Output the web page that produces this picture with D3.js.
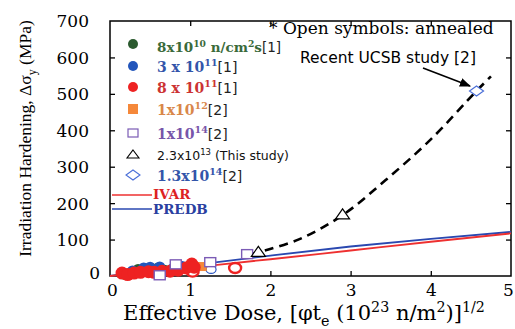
<!DOCTYPE html>
<html>
<head>
<meta charset="utf-8">
<script src="https://cdn.jsdelivr.net/npm/d3@7"></script>
<style>
  html, body { margin: 0; padding: 0; background: #fff; }
  svg { display: block; }
  .times { font-family: "Liberation Serif", "Times New Roman", serif; }
  .wide { font-family: "DejaVu Serif", "Liberation Serif", serif; }
  .sans { font-family: "DejaVu Sans", "Liberation Sans", sans-serif; }
</style>
</head>
<body>
<script>
// Irradiation hardening vs effective dose
const xTicks = [0, 1, 2, 3, 4, 5];
const yTicks = [0, 100, 200, 300, 400, 500, 600, 700];

// [dose, hardening MPa]
const red8e11 = [[0.15,8],[0.22,4],[0.3,8],[0.38,10],[0.48,12],[0.55,10],[0.65,13],[0.75,13],[0.85,16],[0.95,22],[1.02,33],[1.05,24]];
const blue3e11 = [[0.28,14],[0.42,22],[0.5,24],[0.62,25],[0.78,20],[0.9,26]];
const green8e10 = [[0.18,5],[0.35,18],[0.6,22],[0.68,16]];
const orange1e12 = [[1.15,26]];
const purple1e14 = [[0.62,2],[0.82,32],[1.25,38],[1.71,60]];
const redOpen = [[1.03,12],[1.56,22]];
const blueOpen = [[1.26,18]];
const thisStudy = [[1.85,65],[2.9,168]];
const ucsb = [[4.57,508]];

const trendDashed = [[1.75,60],[1.85,65],[2.37,102],[2.9,167],[3.43,262],[4.0,375],[4.57,508],[4.75,548]];
const ivarModel = [[0,0],[1,23],[2,46],[3,70],[4,94],[5,117]];
const predbModel = [[0,0],[0.3,10],[1,29],[2,56],[3,81],[4,102],[5,121]];

const W = 515, H = 329;
const m = {left: 110, right: 4, top: 21, bottom: 53};

const svg = d3.select("body").append("svg").attr("width", W).attr("height", H);

const x = d3.scaleLinear().domain([0, 5]).range([m.left, W - m.right]);
const y = d3.scaleLinear().domain([0, 700]).range([H - m.bottom, m.top]);

// frame
svg.append("rect")
  .attr("x", x(0)).attr("y", y(700))
  .attr("width", x(5) - x(0)).attr("height", y(0) - y(700))
  .attr("fill", "none").attr("stroke", "#000").attr("stroke-width", 1.5);

// axes with inward ticks
const tl = 5;
const gx = svg.append("g").attr("transform", `translate(0,${y(0)})`)
  .call(d3.axisBottom(x).tickValues(xTicks).tickSize(-tl).tickPadding(tl + 6).tickFormat(d3.format("d")));
const gxt = svg.append("g").attr("transform", `translate(0,${y(700)})`)
  .call(d3.axisTop(x).tickValues([1,2,3,4]).tickSize(-tl).tickFormat(""));
const gy = svg.append("g").attr("transform", `translate(${x(0)},0)`)
  .call(d3.axisLeft(y).tickValues(yTicks).tickSize(-tl).tickPadding(tl + 16).tickFormat(d3.format("d")));
const gyr = svg.append("g").attr("transform", `translate(${x(5)},0)`)
  .call(d3.axisRight(y).tickValues([100,200,300,400,500,600]).tickSize(-tl).tickFormat(""));

[gx, gxt, gy, gyr].forEach(g => {
  g.attr("font-family", null).attr("font-size", null);
  g.select(".domain").remove();
  g.selectAll(".tick line").attr("stroke", "#000").attr("stroke-width", 1.3);
  g.selectAll("text").attr("class", "wide").style("font-size", "17px").attr("fill", "#000");
});
gx.selectAll(".tick").filter(d => d === 0 || d === 5).select("line").remove();
gy.selectAll(".tick").filter(d => d === 0 || d === 700).select("line").remove();
gx.selectAll(".tick text").attr("dy", "0.55em");
gy.selectAll(".tick text").attr("dy", "0.35em");
gy.selectAll(".tick").filter(d => d === 0).select("text").attr("dx", 11).attr("dy", "0.15em");
gx.selectAll(".tick").filter(d => d === 0).select("text").attr("dx", 2);
gx.selectAll(".tick").filter(d => d === 5).select("text").attr("dx", -3);

// rich text helper: parts = [text, kind, cssClass, fill]
function rich(sel, parts, opts) {
  const t = sel.append("text")
    .attr("x", opts.x).attr("y", opts.y)
    .attr("class", opts.cls).style("font-size", opts.size + "px")
    .attr("fill", opts.fill).style("font-weight", opts.weight || "normal");
  if (opts.transform) t.attr("transform", opts.transform);
  if (opts.anchor) t.attr("text-anchor", opts.anchor);
  let shift = 0;
  parts.forEach(p => {
    const [txt, kind, c, fill] = p;
    let target = 0, fs = opts.size;
    if (kind === "sup") { target = -opts.size * 0.4; fs = opts.size * 0.68; }
    if (kind === "sub") { target = opts.size * 0.3; fs = opts.size * 0.68; }
    const ts = t.append("tspan").text(txt).attr("dy", target - shift).style("font-size", fs + "px");
    if (c) ts.attr("class", c).style("font-weight", "normal");
    if (fill) ts.attr("fill", fill);
    shift = target;
  });
  return t;
}

// models
const line = d3.line().x(d => x(d[0])).y(d => y(d[1])).curve(d3.curveMonotoneX);
svg.append("path").datum(predbModel).attr("d", line)
  .attr("fill", "none").attr("stroke", "#2a48b0").attr("stroke-width", 1.8);
svg.append("path").datum(ivarModel).attr("d", line)
  .attr("fill", "none").attr("stroke", "#ee3030").attr("stroke-width", 1.8);

// trend for irradiations at high dose
svg.append("path").datum(trendDashed).attr("d", d3.line().x(d => x(d[0])).y(d => y(d[1])).curve(d3.curveCatmullRom))
  .attr("fill", "none").attr("stroke", "#000").attr("stroke-width", 2.6).attr("stroke-dasharray", "9,6");

// markers
function circles(data, fill, r) {
  svg.append("g").selectAll("circle").data(data).join("circle")
    .attr("cx", d => x(d[0])).attr("cy", d => y(d[1])).attr("r", r).attr("fill", fill);
}
function openCircles(data, stroke, rx, ry, sw) {
  svg.append("g").selectAll("ellipse").data(data).join("ellipse")
    .attr("cx", d => x(d[0])).attr("cy", d => y(d[1])).attr("rx", rx).attr("ry", ry)
    .attr("fill", "#fff").attr("stroke", stroke).attr("stroke-width", sw);
}
function squares(data, fill, stroke, w, h) {
  svg.append("g").selectAll("rect").data(data).join("rect")
    .attr("x", d => x(d[0]) - w / 2).attr("y", d => y(d[1]) - h / 2).attr("width", w).attr("height", h)
    .attr("fill", fill).attr("stroke", stroke).attr("stroke-width", 1.4);
}
function triangles(data) {
  svg.append("g").selectAll("path").data(data).join("path")
    .attr("transform", d => `translate(${x(d[0])},${y(d[1])})`)
    .attr("d", "M0,-6L7,4L-7,4Z").attr("fill", "#fff").attr("stroke", "#000").attr("stroke-width", 1.2);
}
function diamonds(data, stroke) {
  svg.append("g").selectAll("path").data(data).join("path")
    .attr("transform", d => `translate(${x(d[0])},${y(d[1])})`)
    .attr("d", "M0,-5L7,0L0,5L-7,0Z").attr("fill", "#fff").attr("stroke", stroke).attr("stroke-width", 1.2);
}

circles(green8e10, "#2b5a2f", 5.5);
circles(blue3e11, "#2255bb", 5.5);
openCircles(blueOpen, "#2a55c0", 5, 4, 1.2);
squares(orange1e12, "#f5883a", "none", 9, 9);
openCircles(redOpen, "#ee2222", 6, 5, 2.4);
circles(red8e11, "#ee2222", 6.5);
squares(purple1e14, "#fff", "#7b5bb5", 11, 9);
triangles(thisStudy);
diamonds(ucsb, "#4a6fd8");

// legend
const lx = 133, tx = 157;
const leg = svg.append("g");
leg.append("circle").attr("cx", lx).attr("cy", 44).attr("r", 5).attr("fill", "#2b5a2f");
leg.append("circle").attr("cx", lx).attr("cy", 66).attr("r", 5).attr("fill", "#2255bb");
leg.append("circle").attr("cx", lx).attr("cy", 87).attr("r", 5).attr("fill", "#ee2222");
leg.append("rect").attr("x", lx - 5).attr("y", 104).attr("width", 10).attr("height", 10).attr("fill", "#f5883a");
leg.append("rect").attr("x", lx - 5).attr("y", 129).attr("width", 10).attr("height", 8).attr("fill", "#fff").attr("stroke", "#7b5bb5").attr("stroke-width", 1.2);
leg.append("path").attr("transform", `translate(${lx},155)`).attr("d", "M0,-5L6,3L-6,3Z").attr("fill", "#fff").attr("stroke", "#000").attr("stroke-width", 1.1);
leg.append("path").attr("transform", `translate(${lx},175)`).attr("d", "M0,-5L7,0L0,5L-7,0Z").attr("fill", "#fff").attr("stroke", "#4a6fd8").attr("stroke-width", 1.1);
leg.append("line").attr("x1", 112).attr("x2", 152).attr("y1", 195).attr("y2", 195).attr("stroke", "#ee3030").attr("stroke-width", 1.6);
leg.append("line").attr("x1", 112).attr("x2", 152).attr("y1", 209).attr("y2", 209).attr("stroke", "#2a48b0").attr("stroke-width", 1.6);

const ls = 14;
const ref = c => [c, null, "sans", "#222"];
rich(leg, [["8x10"], ["10", "sup"], [" n/cm"], ["2", "sup"], ["s"], ref("[1]")], {x: tx, y: 52, cls: "wide", size: 13.5, fill: "#3a6a3a", weight: "bold"});
rich(leg, [["3 x 10"], ["11", "sup"], ref("[1]")], {x: tx, y: 72, cls: "wide", size: ls, fill: "#3355aa", weight: "bold"});
rich(leg, [["8 x 10"], ["11", "sup"], ref("[1]")], {x: tx, y: 93, cls: "wide", size: ls, fill: "#cc3333", weight: "bold"});
rich(leg, [["1x10"], ["12", "sup"], ref("[2]")], {x: tx, y: 115, cls: "wide", size: ls, fill: "#d9874a", weight: "bold"});
rich(leg, [["1x10"], ["14", "sup"], ref("[2]")], {x: tx, y: 139, cls: "wide", size: ls, fill: "#7755aa", weight: "bold"});
rich(leg, [["2.3x10"], ["13", "sup"], [" (This study)"]], {x: tx, y: 160, cls: "sans", size: 12.5, fill: "#111"});
rich(leg, [["1.3x10"], ["14", "sup"], ref("[2]")], {x: tx, y: 181, cls: "wide", size: ls, fill: "#3355aa", weight: "bold"});
leg.append("text").attr("x", 153).attr("y", 199).text("IVAR")
  .attr("class", "wide").style("font-size", "13.5px").style("font-weight", "bold").attr("fill", "#dd2222");
leg.append("text").attr("x", 153).attr("y", 214).text("PREDB")
  .attr("class", "wide").style("font-size", "13.5px").style("font-weight", "bold").attr("fill", "#2a40a0");

// annotations
svg.append("text").attr("x", 269).attr("y", 34).text("* Open symbols: annealed")
  .attr("class", "wide").style("font-size", "17px").attr("fill", "#000");
svg.append("text").attr("x", 300).attr("y", 63).text("Recent UCSB study [2]")
  .attr("class", "sans").style("font-size", "15.5px").attr("fill", "#000");

svg.append("defs").append("marker").attr("id", "ah").attr("viewBox", "0 0 10 10")
  .attr("refX", 9).attr("refY", 5).attr("markerWidth", 7).attr("markerHeight", 7).attr("orient", "auto")
  .append("path").attr("d", "M0,1L10,5L0,9Z").attr("fill", "#000");
svg.append("line").attr("x1", 423).attr("y1", 68).attr("x2", 470).attr("y2", 86)
  .attr("stroke", "#000").attr("stroke-width", 1.6).attr("marker-end", "url(#ah)");

// axis titles
rich(svg, [["Irradiation Hardening, Δσ"], ["y", "sub"], [" (MPa)"]],
  {x: 0, y: 0, cls: "times", size: 17.5, fill: "#000", anchor: "middle", transform: `translate(31,${(20 + 257) / 2}) rotate(-90)`});
rich(svg, [["Effective Dose, [φt"], ["e", "sub"], [" (10"], ["23", "sup"], [" n/m"], ["2", "sup"], [")]"], ["1/2", "sup"]],
  {x: 304, y: 320, cls: "wide", size: 21, fill: "#000", anchor: "middle"});
</script>
</body>
</html>
